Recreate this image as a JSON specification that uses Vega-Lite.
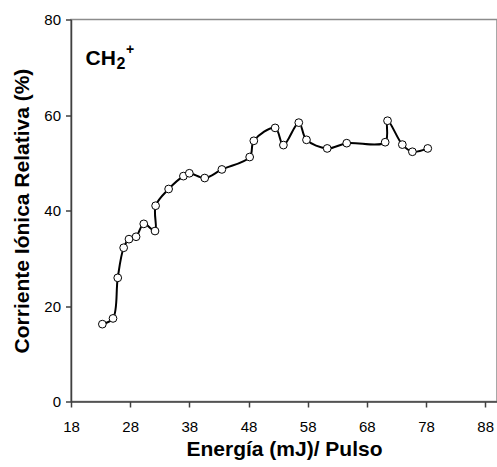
{
  "$schema": "https://vega.github.io/schema/vega-lite/v6.json",
  "autosize": "none",
  "width": 426,
  "height": 382,
  "padding": {"left": 71, "top": 19.5, "right": 0, "bottom": 65.5},
  "background": "white",
  "config": {
    "font": "Liberation Sans",
    "view": {"stroke": "#8c8c8c", "strokeWidth": 1.5},
    "axis": {
      "grid": false,
      "domainColor": "#404040",
      "domainWidth": 1.5,
      "tickColor": "#404040",
      "tickWidth": 1.5,
      "tickSize": 5.5,
      "labelFont": "Liberation Sans",
      "labelFontSize": 15,
      "labelColor": "#000000",
      "titleFont": "Liberation Sans",
      "titleFontSize": 21,
      "titleFontWeight": "bold",
      "titleColor": "#000000"
    }
  },
  "datasets": {
    "serie": [
      {"energia": 23.3, "corriente": 16.2},
      {"energia": 25.1, "corriente": 17.4},
      {"energia": 25.9, "corriente": 25.9},
      {"energia": 26.9, "corriente": 32.2},
      {"energia": 27.8, "corriente": 34.0},
      {"energia": 29.0, "corriente": 34.5},
      {"energia": 30.3, "corriente": 37.2},
      {"energia": 32.2, "corriente": 35.7},
      {"energia": 32.3, "corriente": 41.0},
      {"energia": 34.5, "corriente": 44.5},
      {"energia": 37.0, "corriente": 47.2},
      {"energia": 38.0, "corriente": 47.8},
      {"energia": 40.6, "corriente": 46.8},
      {"energia": 43.5, "corriente": 48.6},
      {"energia": 48.2, "corriente": 51.2},
      {"energia": 48.9, "corriente": 54.6},
      {"energia": 52.5, "corriente": 57.3},
      {"energia": 53.9, "corriente": 53.7},
      {"energia": 56.5, "corriente": 58.4},
      {"energia": 57.8, "corriente": 54.8},
      {"energia": 61.3, "corriente": 53.0},
      {"energia": 64.6, "corriente": 54.1},
      {"energia": 71.1, "corriente": 54.3},
      {"energia": 71.5, "corriente": 58.8},
      {"energia": 74.0, "corriente": 53.8},
      {"energia": 75.7, "corriente": 52.3},
      {"energia": 78.3, "corriente": 53.0}
    ],
    "etiqueta": [
      {"especie": "CH", "sub": "2", "carga": "+"}
    ]
  },
  "layer": [
    {
      "data": {"name": "serie"},
      "encoding": {
        "x": {
          "field": "energia",
          "type": "quantitative",
          "scale": {"domain": [18, 90], "nice": false, "zero": false},
          "axis": {
            "values": [18, 28, 38, 48, 58, 68, 78, 88],
            "title": "Energía (mJ)/ Pulso",
            "labelPadding": 12,
            "titlePadding": 4,
            "labelFlush": false
          }
        },
        "y": {
          "field": "corriente",
          "type": "quantitative",
          "scale": {"domain": [0, 80], "nice": false},
          "axis": {
            "values": [0, 20, 40, 60, 80],
            "title": "Corriente Iónica Relativa (%)",
            "labelPadding": 5,
            "titlePadding": 11,
            "labelFlush": false
          }
        }
      },
      "layer": [
        {
          "mark": {"type": "line", "color": "#000000", "strokeWidth": 2, "interpolate": "catmull-rom"}
        },
        {
          "mark": {"type": "point", "shape": "circle", "filled": true, "fill": "#ffffff", "stroke": "#000000", "strokeWidth": 1, "size": 60, "opacity": 1}
        }
      ]
    },
    {
      "data": {"name": "etiqueta"},
      "encoding": {
        "x": {"datum": 20.45, "type": "quantitative"},
        "y": {"datum": 70.5, "type": "quantitative"}
      },
      "layer": [
        {
          "mark": {"type": "text", "align": "left", "baseline": "alphabetic", "fontSize": 21, "fontWeight": "bold", "color": "#000000"},
          "encoding": {"text": {"field": "especie"}}
        },
        {
          "mark": {"type": "text", "align": "left", "baseline": "alphabetic", "fontSize": 16, "fontWeight": "bold", "color": "#000000", "dx": 31, "dy": 4.3},
          "encoding": {"text": {"field": "sub"}}
        },
        {
          "mark": {"type": "text", "align": "left", "baseline": "alphabetic", "fontSize": 14, "fontWeight": "bold", "color": "#000000", "dx": 40.5, "dy": -11},
          "encoding": {"text": {"field": "carga"}}
        }
      ]
    }
  ]
}
